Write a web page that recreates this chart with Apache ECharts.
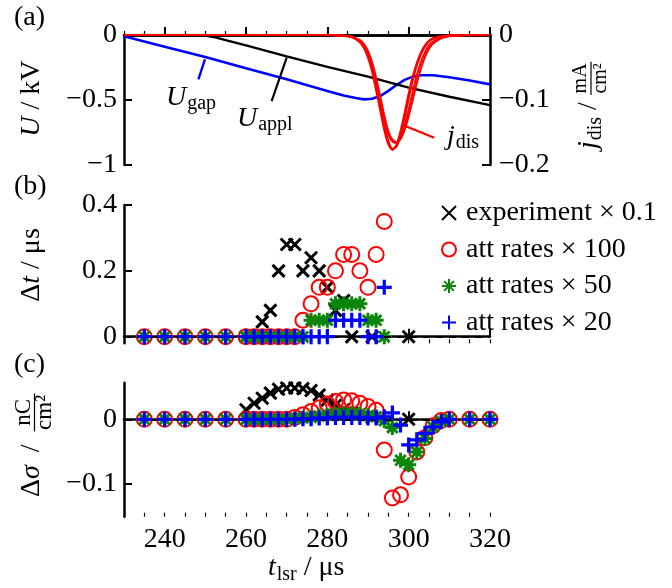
<!DOCTYPE html>
<html><head><meta charset="utf-8">
<script src="https://cdn.jsdelivr.net/npm/echarts@6/dist/echarts.min.js"></script>
<style>html,body{margin:0;padding:0;background:#fff}#c{width:672px;height:588px}</style>
</head><body><div id="c"></div>
<script>
// ---------- data ----------
// panel (a)
const uApplX = [230, 248, 250, 252, 255, 260, 270, 280, 290, 300, 310, 320];
const uApplY = [0, 0, -0.005, -0.015, -0.04, -0.08, -0.165, -0.245, -0.32, -0.405, -0.475, -0.54];
const uGapX = [230, 240, 250, 260, 270, 280, 284, 287, 289, 291, 293, 295, 297, 299, 301, 303, 306, 310, 315, 320];
const uGapY = [-0.01, -0.09, -0.17, -0.255, -0.34, -0.43, -0.465, -0.485, -0.495, -0.49, -0.47, -0.43, -0.385, -0.345, -0.32, -0.31, -0.31, -0.325, -0.35, -0.38];
const jX = [230, 280, 284, 286, 288, 289, 290, 291, 292, 293, 294, 295, 296, 297, 298, 299, 300, 301, 302, 303, 304, 305, 306, 308, 310, 312, 320];
const j1 = [0, 0, -0.001, -0.003, -0.01, -0.018, -0.032, -0.052, -0.08, -0.11, -0.14, -0.163, -0.175, -0.172, -0.155, -0.128, -0.098, -0.07, -0.047, -0.03, -0.018, -0.01, -0.006, -0.002, -0.001, 0, 0];
const j2 = [0, 0, -0.001, -0.003, -0.009, -0.016, -0.028, -0.046, -0.072, -0.1, -0.13, -0.153, -0.164, -0.166, -0.158, -0.14, -0.115, -0.088, -0.062, -0.042, -0.027, -0.016, -0.01, -0.004, -0.001, 0, 0];
const j3 = [0, 0, -0.001, -0.003, -0.008, -0.014, -0.025, -0.042, -0.066, -0.094, -0.124, -0.148, -0.161, -0.165, -0.16, -0.146, -0.125, -0.1, -0.074, -0.052, -0.034, -0.021, -0.013, -0.005, -0.002, -0.001, 0];
const j4 = [0, 0, -0.001, -0.003, -0.011, -0.02, -0.035, -0.056, -0.085, -0.116, -0.146, -0.168, -0.177, -0.169, -0.148, -0.12, -0.09, -0.064, -0.043, -0.027, -0.016, -0.009, -0.005, -0.002, -0.001, 0, 0];
// panel (b): simulation points (defined only up to the discharge)
const simXb = [235, 240, 245, 250, 255, 260, 262, 264, 266, 268, 270, 272, 274, 276, 278, 280, 282, 284, 286, 288, 290, 292, 294];
const dtRed   = [0,0,0,0,0,0,0,0,0,0,0,0, 0.05,0.1,0.15,0.15,0.2,0.25,0.25,0.2,0.15,0.25,0.35];
const dtGreen = [0,0,0,0,0,0,0,0,0,0,0,0, 0,0.05,0.05,0.05,0.1,0.1,0.1,0.1,0.05,0.05,0];
const dtBlue  = [0,0,0,0,0,0,0,0,0,0,0,0, 0,0,0,0,0.05,0.05,0.05,0.05,0,0,0.15];
// panel (c): simulation points
const simXc = [235, 240, 245, 250, 255, 260, 262, 264, 266, 268, 270, 272, 274, 276, 278, 280, 282, 284, 286, 288, 290, 292, 294, 296, 298, 300, 302, 304, 306, 308, 310, 315, 320];
const dsRed   = [0,0,0,0,0,0,0,0,0,0,0, 0.003,0.007,0.012,0.018,0.024,0.028,0.03,0.029,0.025,0.02,0.014,-0.048,-0.123,-0.118,-0.09,-0.051,-0.029,-0.01,-0.002,0, 0,0];
const dsGreen = [0,0,0,0,0,0,0,0,0,0,0, 0.001,0.002,0.003,0.005,0.006,0.008,0.009,0.009,0.008,0.006,0.004,-0.002,-0.013,-0.064,-0.071,-0.051,-0.03,-0.012,-0.003,0, 0,0];
const dsBlue  = [0,0,0,0,0,0,0,0,0,0,0, 0,0.001,0.001,0.002,0.002,0.003,0.003,0.003,0.003,0.002,0.002,0.004,0.01,-0.009,-0.04,-0.032,-0.022,-0.012,-0.004,0, 0,0];
// experiment
const expX  = [260, 262, 264, 266, 268, 270, 272, 274, 276, 278, 280, 282, 284, 286, 291, 300];
const dtExp = [0, 0, 0.045, 0.08, 0.2, 0.28, 0.28, 0.2, 0.24, 0.2, 0.15, 0.08, 0.11, 0, 0, 0];
const dsExp = [0.015, 0.025, 0.033, 0.041, 0.047, 0.049, 0.049, 0.048, 0.045, 0.038, 0.03, 0.022, 0.015, 0.01, 0.003, 0];
// ticks
const xTicks = [240, 260, 280, 300, 320];
const bTicks = [0, 0.2, 0.4];
const cTicks = [-0.1, 0];
const names = ['experiment \u00d7 0.1', 'att rates \u00d7 100', 'att rates \u00d7 50', 'att rates \u00d7 20'];

// ---------- helpers ----------
const FF = "Liberation Serif, DejaVu Serif, serif";
const FS = 28;
const pts = (xs, ys) => xs.map((x, i) => [x, ys[i]]);
const minus = v => (v < 0 ? '\u2212' : '') + Math.round(Math.abs(v) * 1000) / 1000;
const mctx = document.createElement('canvas').getContext('2d');
function tw(t, s, it) { mctx.font = (it ? 'italic ' : '') + s + 'px ' + FF; return mctx.measureText(t).width; }
function mathRow(parts) {
  let x = 0; const els = [];
  parts.forEach(p => {
    if (p.frac) {
      const s = p.s; const w = Math.max(tw(p.num, s), tw(p.den, s)) + 3;
      const by = p.bar;
      els.push({ type: 'line', shape: { x1: x, y1: by, x2: x + w, y2: by }, style: { stroke: '#000', lineWidth: 1.2 } });
      els.push({ type: 'text', x: x + w / 2, y: by - 3 - 0.34 * s, style: { text: p.num, font: s + 'px ' + FF, fill: '#000', textAlign: 'center', textVerticalAlign: 'middle' } });
      els.push({ type: 'text', x: x + w / 2, y: by + 3 + 0.32 * s, style: { text: p.den, font: s + 'px ' + FF, fill: '#000', textAlign: 'center', textVerticalAlign: 'middle' } });
      x += w;
    } else {
      els.push({ type: 'text', x: x, y: (p.dy || 0) - 0.34 * p.s, style: { text: p.t, font: (p.i ? 'italic ' : '') + p.s + 'px ' + FF, fill: '#000', textAlign: 'left', textVerticalAlign: 'middle' } });
      x += tw(p.t, p.s, p.i) + (p.gap || 0);
    }
  });
  return els;
}
function group(x, y, rot, parts) { return { type: 'group', x: x, y: y, rotation: rot, children: mathRow(parts) }; }
const R = Math.PI / 2;

const GL = 124, GR = 182;
const axLine = { show: true, lineStyle: { color: '#000', width: 2.5 } };
function mainX(grid, labels) {
  return { type: 'value', gridIndex: grid, min: 230, max: 320, position: 'bottom', axisLine: axLine,
    axisTick: { show: true, inside: true, length: 8, customValues: xTicks, lineStyle: { color: '#000', width: 2 } },
    axisLabel: labels ? { show: true, customValues: xTicks, fontFamily: FF, fontSize: FS, color: '#000', margin: 9 } : { show: false },
    splitLine: { show: false } };
}
function minorX(grid) {
  return { type: 'value', gridIndex: grid, min: 230, max: 320, interval: 5, position: 'bottom', axisLine: { show: false },
    axisTick: { show: true, inside: true, length: 4, lineStyle: { color: '#000', width: 1.2 } }, axisLabel: { show: false }, splitLine: { show: false } };
}
const ylab = { fontFamily: FF, fontSize: FS, color: '#000', margin: 7, formatter: minus };
const yTick = { show: true, inside: true, length: 8, lineStyle: { color: '#000', width: 2 } };

const sym = {
  cross: 'path://M0,0L10,10M0,10L10,0',
  plus: 'path://M5,0L5,10M0,5L10,5',
  star: 'path://M5,0L5,10M0,5L10,5M1.5,1.5L8.5,8.5M1.5,8.5L8.5,1.5'
};
function sc(name, xa, ya, data, kind, z, extra) {
  const st = {
    exp: { symbol: sym.cross, symbolSize: 12, itemStyle: { color: 'rgba(0,0,0,0)', borderColor: '#000', borderWidth: 3, opacity: 1 } },
    red: { symbol: 'circle', symbolSize: 15, itemStyle: { color: 'rgba(0,0,0,0)', borderColor: '#ff0000', borderWidth: 2, opacity: 1 } },
    green: { symbol: sym.star, symbolSize: 15, itemStyle: { color: 'rgba(0,0,0,0)', borderColor: '#0a850a', borderWidth: 3, opacity: 1 } },
    blue: { symbol: sym.plus, symbolSize: 15, itemStyle: { color: 'rgba(0,0,0,0)', borderColor: '#0000ff', borderWidth: 3.2, opacity: 1 } }
  }[kind];
  return Object.assign({ type: 'scatter', name: name, xAxisIndex: xa, yAxisIndex: ya, data: data, z: z, clip: false }, st, extra || {});
}
const zeroLine = { silent: true, symbol: 'none', label: { show: false }, lineStyle: { color: '#000', type: [7, 6], width: 2, opacity: 1 }, data: [{ yAxis: 0 }] };

const option = {
  animation: false,
  backgroundColor: '#fff',
  grid: [
    { left: GL, right: GR, top: 35, height: 130 },
    { left: GL, right: GR, top: 205, height: 138.3 },
    { left: GL, right: GR, top: 382.7, height: 134 }
  ],
  xAxis: [
    mainX(0, false), minorX(0),
    { type: 'value', gridIndex: 0, min: 230, max: 320, position: 'top', axisLine: axLine, axisTick: { show: false }, axisLabel: { show: false }, splitLine: { show: false } },
    mainX(1, false), minorX(1),
    mainX(2, true), minorX(2)
  ],
  yAxis: [
    { type: 'value', gridIndex: 0, min: -1, max: 0, interval: 0.5, axisLine: axLine, axisTick: yTick, axisLabel: ylab, splitLine: { show: false } },
    { type: 'value', gridIndex: 0, min: -0.2, max: 0, interval: 0.1, position: 'right', axisLine: axLine, axisTick: yTick, axisLabel: Object.assign({}, ylab, { margin: 9 }), splitLine: { show: false } },
    { type: 'value', gridIndex: 1, min: -0.02, max: 0.4, axisLine: axLine, axisTick: Object.assign({}, yTick, { customValues: bTicks }), axisLabel: Object.assign({}, ylab, { customValues: bTicks }), splitLine: { show: false } },
    { type: 'value', gridIndex: 2, min: -0.1522, max: 0.0572, axisLine: axLine, axisTick: Object.assign({}, yTick, { customValues: cTicks }), axisLabel: Object.assign({}, ylab, { customValues: cTicks }), splitLine: { show: false } }
  ],
  legend: {
    data: names, orient: 'vertical', left: 436, top: 194, itemWidth: 14, itemHeight: 14, itemGap: 8.5,
    textStyle: { fontFamily: FF, fontSize: FS, color: '#000', padding: [0, 0, 0, 5] }
  },
  series: [
    { type: 'line', name: 'Ugap', xAxisIndex: 0, yAxisIndex: 0, data: pts(uGapX, uGapY), showSymbol: false, lineStyle: { color: '#0000ff', width: 2.6 }, itemStyle: { color: '#0000ff' }, z: 3,
      markLine: { silent: true, symbol: 'none', label: { show: false }, lineStyle: { color: '#0000ff', type: 'solid', width: 2.4 }, data: [[{ coord: [249.9, -0.188] }, { coord: [248.3, -0.342] }]] } },
    { type: 'line', name: 'Uappl', xAxisIndex: 0, yAxisIndex: 0, data: pts(uApplX, uApplY), showSymbol: false, lineStyle: { color: '#000', width: 2.4 }, itemStyle: { color: '#000' }, z: 3,
      markLine: { silent: true, symbol: 'none', label: { show: false }, lineStyle: { color: '#000', type: 'solid', width: 2.2 }, data: [[{ coord: [270, -0.175] }, { coord: [266.3, -0.509] }]] } },
    { type: 'line', name: 'jdis1', xAxisIndex: 0, yAxisIndex: 1, data: pts(jX, j1), showSymbol: false, smooth: 0.2, lineStyle: { color: '#ff0000', width: 2 }, itemStyle: { color: '#ff0000' }, z: 4,
      markLine: { silent: true, symbol: 'none', label: { show: false }, lineStyle: { color: '#ff0000', type: 'solid', width: 2.2 }, data: [[{ coord: [299.3, -0.1403] }, { coord: [306.3, -0.158] }]] } },
    { type: 'line', name: 'jdis2', xAxisIndex: 0, yAxisIndex: 1, data: pts(jX, j2), showSymbol: false, smooth: 0.2, lineStyle: { color: '#ff0000', width: 2 }, z: 4 },
    { type: 'line', name: 'jdis3', xAxisIndex: 0, yAxisIndex: 1, data: pts(jX, j3), showSymbol: false, smooth: 0.2, lineStyle: { color: '#ff0000', width: 2 }, z: 4 },
    { type: 'line', name: 'jdis4', xAxisIndex: 0, yAxisIndex: 1, data: pts(jX, j4), showSymbol: false, smooth: 0.2, lineStyle: { color: '#ff0000', width: 2 }, z: 4 },

    sc(names[0], 3, 2, pts(expX, dtExp), 'exp', 2, { markLine: zeroLine }),
    sc(names[1], 3, 2, pts(simXb, dtRed), 'red', 3),
    sc(names[2], 3, 2, pts(simXb, dtGreen), 'green', 4),
    sc(names[3], 3, 2, pts(simXb, dtBlue), 'blue', 5),

    sc(names[0], 5, 3, pts(expX, dsExp), 'exp', 2, { markLine: zeroLine }),
    sc(names[1], 5, 3, pts(simXc, dsRed), 'red', 3),
    sc(names[2], 5, 3, pts(simXc, dsGreen), 'green', 4),
    sc(names[3], 5, 3, pts(simXc, dsBlue), 'blue', 5)
  ],
  graphic: [
    { type: 'text', left: 14, top: 4, style: { text: '(a)', font: FS + 'px ' + FF, fill: '#000' } },
    { type: 'text', left: 14, top: 173, style: { text: '(b)', font: FS + 'px ' + FF, fill: '#000' } },
    { type: 'text', left: 14, top: 351, style: { text: '(c)', font: FS + 'px ' + FF, fill: '#000' } },
    group(41.5, 136.7, R, [{ t: 'U', s: FS, i: true }, { t: ' / kV', s: FS }]),
    group(41.5, 301.7, R, [{ t: '\u0394', s: FS }, { t: 't', s: FS, i: true }, { t: ' / \u03bcs', s: FS }]),
    group(41.5, 497, R, [{ t: '\u0394', s: FS }, { t: '\u03c3', s: FS, i: true, gap: 6 }, { t: ' / ', s: FS, gap: 6 }, { frac: true, num: 'nC', den: 'cm\u00b2', s: 23, bar: -7 }]),
    group(598, 149, R, [{ t: 'j', s: FS, i: true, gap: 1 }, { t: 'dis', s: 20, dy: 5 }, { t: ' / ', s: FS }, { frac: true, num: 'mA', den: 'cm\u00b2', s: 20, bar: -7 }]),
    group(268, 577, 0, [{ t: 't', s: FS, i: true, gap: 1 }, { t: 'lsr', s: 20, dy: 5 }, { t: ' / \u03bcs', s: FS }]),
    group(166, 107, 0, [{ t: 'U', s: FS, i: true, gap: 1 }, { t: 'gap', s: 20, dy: 4 }]),
    group(237, 128, 0, [{ t: 'U', s: FS, i: true, gap: 1 }, { t: 'appl', s: 20, dy: 4 }]),
    group(447, 146, 0, [{ t: 'j', s: FS, i: true, gap: 1 }, { t: 'dis', s: 20, dy: 4 }])
  ]
};
const chart = echarts.init(document.getElementById('c'), null, { renderer: 'canvas' });
chart.setOption(option);
</script></body></html>
